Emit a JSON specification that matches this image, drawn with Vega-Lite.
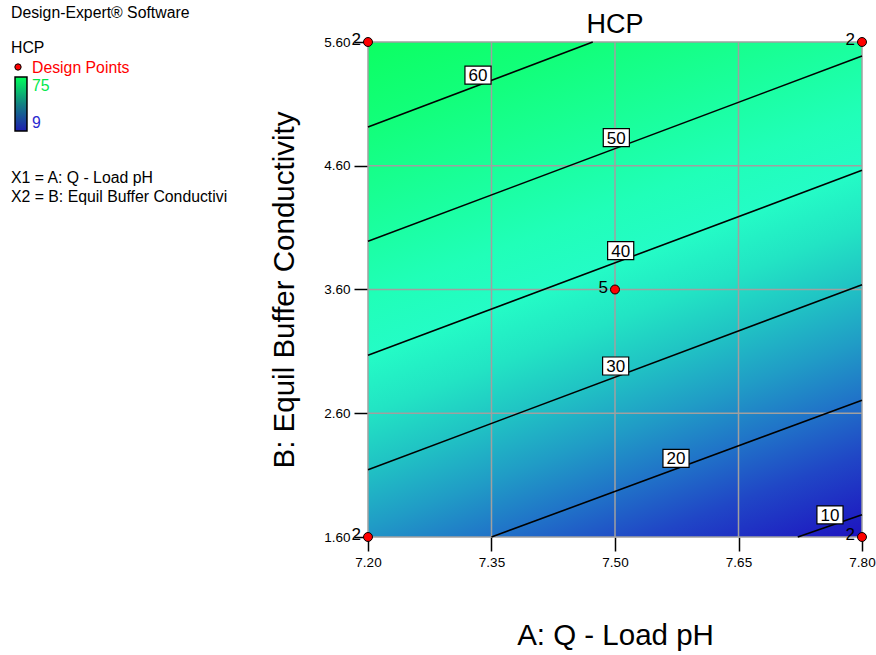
{
  "$schema": "https://vega.github.io/schema/vega-lite/v6.json",
  "width": 494,
  "height": 495,
  "autosize": {"type": "none"},
  "padding": {"left": 368, "top": 42, "right": 14, "bottom": 118},
  "background": "white",
  "config": {
    "font": "Liberation Sans",
    "view": {"stroke": null},
    "text": {"font": "Liberation Sans"}
  },
  "title": {"text": "HCP", "fontSize": 27, "font": "Liberation Sans", "fontWeight": "normal", "color": "black", "baseline": "alphabetic", "offset": -26, "dy": 29, "anchor": "middle", "frame": "group"},
  "datasets": {
    "bg": [{"x": 7.2, "x2": 7.8, "y": 1.6, "y2": 5.6}],
    "gx": [{"x": 7.2}, {"x": 7.35}, {"x": 7.5}, {"x": 7.65}, {"x": 7.8}],
    "gy": [{"y": 1.6}, {"y": 2.6}, {"y": 3.6}, {"y": 4.6}, {"y": 5.6}],
    "contours": [
      {"level": 60, "x": 7.2, "y": 4.913}, {"level": 60, "x": 7.473, "y": 5.6},
      {"level": 50, "x": 7.2, "y": 3.990}, {"level": 50, "x": 7.8, "y": 5.487},
      {"level": 40, "x": 7.2, "y": 3.068}, {"level": 40, "x": 7.8, "y": 4.563},
      {"level": 30, "x": 7.2, "y": 2.144}, {"level": 30, "x": 7.8, "y": 3.639},
      {"level": 20, "x": 7.350, "y": 1.6}, {"level": 20, "x": 7.8, "y": 2.705},
      {"level": 10, "x": 7.722, "y": 1.6}, {"level": 10, "x": 7.8, "y": 1.780}
    ],
    "labels": [
      {"level": 60, "x": 7.3336, "y": 5.333},
      {"level": 50, "x": 7.5016, "y": 4.827},
      {"level": 40, "x": 7.5069, "y": 3.914},
      {"level": 30, "x": 7.5008, "y": 2.982},
      {"level": 20, "x": 7.5741, "y": 2.236},
      {"level": 10, "x": 7.7611, "y": 1.778}
    ],
    "points": [
      {"x": 7.2, "y": 5.6, "n": 2},
      {"x": 7.8, "y": 5.6, "n": 2},
      {"x": 7.2, "y": 1.6, "n": 2},
      {"x": 7.8, "y": 1.6, "n": 2},
      {"x": 7.5, "y": 3.6, "n": 5}
    ],
    "info": [
      {"text": "Design-Expert® Software", "x": 6.7664, "y": 5.794},
      {"text": "HCP", "x": 6.7664, "y": 5.511},
      {"text": "X1 = A: Q - Load pH", "x": 6.7664, "y": 4.461},
      {"text": "X2 = B: Equil Buffer Conductivi", "x": 6.7664, "y": 4.307}
    ],
    "legendItems": [
      {"text": "Design Points", "item": "Design Points", "x": 6.7919, "y": 5.3495},
      {"text": "75", "item": "max", "x": 6.7919, "y": 5.204},
      {"text": "9", "item": "min", "x": 6.7919, "y": 4.905}
    ],
    "legendDot": [{"x": 6.7749, "y": 5.398}],
    "legendBar": [{"x": 6.7713, "x2": 6.7858, "y": 4.8808, "y2": 5.3172}]
  },
  "layer": [
    {
      "data": {"name": "bg"},
      "mark": {
        "type": "rect",
        "fill": {
          "gradient": "linear",
          "x1": 0, "y1": 0, "x2": 0.4511, "y2": 1.2055,
          "stops": [
            {"offset": 0, "color": "#0cff62"},
            {"offset": 0.1253, "color": "#12ff7a"},
            {"offset": 0.2091, "color": "#17ff8e"},
            {"offset": 0.2929, "color": "#1bffa3"},
            {"offset": 0.3768, "color": "#20ffb8"},
            {"offset": 0.4606, "color": "#24fcc6"},
            {"offset": 0.5444, "color": "#22e4c4"},
            {"offset": 0.6283, "color": "#20c2c4"},
            {"offset": 0.7121, "color": "#209cc6"},
            {"offset": 0.7960, "color": "#2072c8"},
            {"offset": 0.8798, "color": "#2046c6"},
            {"offset": 0.9636, "color": "#1e22c2"},
            {"offset": 1, "color": "#1e14c0"}
          ]
        }
      },
      "encoding": {
        "x": {
          "field": "x", "type": "quantitative",
          "scale": {"domain": [7.2, 7.8], "nice": false, "zero": false},
          "axis": {
            "title": "A: Q - Load pH",
            "values": [7.2, 7.35, 7.5, 7.65, 7.8],
            "format": ".2f",
            "grid": false, "domain": false,
            "ticks": true, "tickSize": 14, "tickWidth": 1.5, "tickColor": "black",
            "labelFontSize": 13.5, "labelColor": "black", "labelPadding": 4,
            "labelFlush": false, "labelOverlap": false, "labelFont": "Liberation Sans",
            "titleFontSize": 29.5, "titleFontWeight": "normal", "titleColor": "black",
            "titleFont": "Liberation Sans", "titlePadding": 53
          }
        },
        "x2": {"field": "x2"},
        "y": {
          "field": "y", "type": "quantitative",
          "scale": {"domain": [1.6, 5.6], "nice": false, "zero": false},
          "axis": {
            "title": "B: Equil Buffer Conductivity",
            "values": [1.6, 2.6, 3.6, 4.6, 5.6],
            "format": ".2f",
            "grid": false, "domain": false,
            "ticks": true, "tickSize": 14, "tickWidth": 1.5, "tickColor": "black",
            "labelFontSize": 13.5, "labelColor": "black", "labelPadding": 4,
            "labelFlush": false, "labelOverlap": false, "labelFont": "Liberation Sans",
            "titleFontSize": 29.5, "titleFontWeight": "normal", "titleColor": "black",
            "titleFont": "Liberation Sans", "titlePadding": 24
          }
        },
        "y2": {"field": "y2"}
      }
    },
    {
      "data": {"name": "gx"},
      "mark": {"type": "rule", "color": "#a0a0a0", "strokeWidth": 1.5},
      "encoding": {
        "x": {"field": "x", "type": "quantitative", "scale": {"domain": [7.2, 7.8], "nice": false, "zero": false}}
      }
    },
    {
      "data": {"name": "gy"},
      "mark": {"type": "rule", "color": "#a0a0a0", "strokeWidth": 1.5},
      "encoding": {
        "y": {"field": "y", "type": "quantitative", "scale": {"domain": [1.6, 5.6], "nice": false, "zero": false}}
      }
    },
    {
      "data": {"name": "contours"},
      "mark": {"type": "line", "color": "black", "strokeWidth": 1.6},
      "encoding": {
        "x": {"field": "x", "type": "quantitative", "scale": {"domain": [7.2, 7.8], "nice": false, "zero": false}},
        "y": {"field": "y", "type": "quantitative", "scale": {"domain": [1.6, 5.6], "nice": false, "zero": false}},
        "detail": {"field": "level", "type": "nominal"}
      }
    },
    {
      "data": {"name": "labels"},
      "mark": {"type": "point", "shape": "M-1.45,-1H1.45V1H-1.45Z", "size": 324, "filled": true, "fill": "white", "stroke": "black", "strokeWidth": 1.2, "opacity": 1},
      "encoding": {
        "x": {"field": "x", "type": "quantitative", "scale": {"domain": [7.2, 7.8], "nice": false, "zero": false}},
        "y": {"field": "y", "type": "quantitative", "scale": {"domain": [1.6, 5.6], "nice": false, "zero": false}}
      }
    },
    {
      "data": {"name": "labels"},
      "mark": {"type": "text", "fontSize": 17, "color": "black", "align": "center", "baseline": "middle", "dy": 1},
      "encoding": {
        "x": {"field": "x", "type": "quantitative", "scale": {"domain": [7.2, 7.8], "nice": false, "zero": false}},
        "y": {"field": "y", "type": "quantitative", "scale": {"domain": [1.6, 5.6], "nice": false, "zero": false}},
        "text": {"field": "level", "type": "nominal"}
      }
    },
    {
      "data": {"name": "points"},
      "mark": {"type": "point", "shape": "circle", "size": 80, "filled": true, "fill": "#ff0000", "stroke": "black", "strokeWidth": 1, "opacity": 1},
      "encoding": {
        "x": {"field": "x", "type": "quantitative", "scale": {"domain": [7.2, 7.8], "nice": false, "zero": false}},
        "y": {"field": "y", "type": "quantitative", "scale": {"domain": [1.6, 5.6], "nice": false, "zero": false}}
      }
    },
    {
      "data": {"name": "points"},
      "mark": {"type": "text", "fontSize": 17, "color": "black", "align": "right", "baseline": "middle", "dx": -7, "dy": -2},
      "encoding": {
        "x": {"field": "x", "type": "quantitative", "scale": {"domain": [7.2, 7.8], "nice": false, "zero": false}},
        "y": {"field": "y", "type": "quantitative", "scale": {"domain": [1.6, 5.6], "nice": false, "zero": false}},
        "text": {"field": "n", "type": "nominal"}
      }
    },
    {
      "data": {"name": "info"},
      "mark": {"type": "text", "fontSize": 15.8, "color": "black", "align": "left", "baseline": "alphabetic"},
      "encoding": {
        "x": {"field": "x", "type": "quantitative", "scale": {"domain": [7.2, 7.8], "nice": false, "zero": false}},
        "y": {"field": "y", "type": "quantitative", "scale": {"domain": [1.6, 5.6], "nice": false, "zero": false}},
        "text": {"field": "text", "type": "nominal"}
      }
    },
    {
      "data": {"name": "legendItems"},
      "mark": {"type": "text", "fontSize": 15.8, "align": "left", "baseline": "alphabetic"},
      "encoding": {
        "x": {"field": "x", "type": "quantitative", "scale": {"domain": [7.2, 7.8], "nice": false, "zero": false}},
        "y": {"field": "y", "type": "quantitative", "scale": {"domain": [1.6, 5.6], "nice": false, "zero": false}},
        "text": {"field": "text", "type": "nominal"},
        "color": {"field": "item", "type": "nominal", "scale": {"domain": ["Design Points", "max", "min"], "range": ["#ff0000", "#00e84a", "#2a2ad0"]}, "legend": null}
      }
    },
    {
      "data": {"name": "legendDot"},
      "mark": {"type": "point", "shape": "circle", "size": 40, "filled": true, "fill": "#ff0000", "stroke": "black", "strokeWidth": 1, "opacity": 1},
      "encoding": {
        "x": {"field": "x", "type": "quantitative", "scale": {"domain": [7.2, 7.8], "nice": false, "zero": false}},
        "y": {"field": "y", "type": "quantitative", "scale": {"domain": [1.6, 5.6], "nice": false, "zero": false}}
      }
    },
    {
      "data": {"name": "legendBar"},
      "mark": {
        "type": "rect", "stroke": "black", "strokeWidth": 1.5,
        "fill": {
          "gradient": "linear", "x1": 0, "y1": 0, "x2": 0, "y2": 1,
          "stops": [
            {"offset": 0, "color": "#00ff5a"},
            {"offset": 0.5, "color": "#128282"},
            {"offset": 1, "color": "#1e1eb0"}
          ]
        }
      },
      "encoding": {
        "x": {"field": "x", "type": "quantitative", "scale": {"domain": [7.2, 7.8], "nice": false, "zero": false}},
        "x2": {"field": "x2"},
        "y": {"field": "y", "type": "quantitative", "scale": {"domain": [1.6, 5.6], "nice": false, "zero": false}},
        "y2": {"field": "y2"}
      }
    }
  ]
}
